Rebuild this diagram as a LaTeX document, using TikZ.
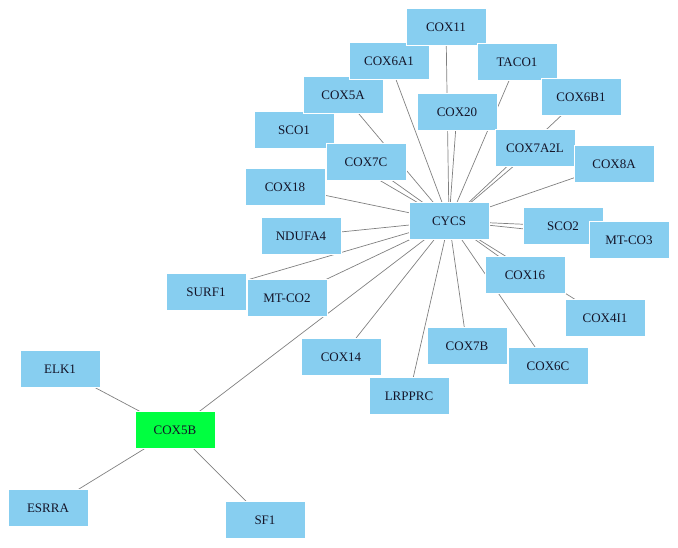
\documentclass[tikz,border=0pt]{standalone}
\usepackage{fontspec}
\setmainfont{Liberation Serif}
\usetikzlibrary{backgrounds}
\definecolor{nodeblue}{RGB}{135,206,240}
\definecolor{nodegreen}{RGB}{0,255,64}
\definecolor{edgegrey}{RGB}{128,128,128}
\definecolor{labeltext}{RGB}{20,20,40}
\begin{document}
\begin{tikzpicture}[x=1pt,y=-1pt,
  gene/.style={rectangle,fill=nodeblue,draw=white,line width=0.4pt,minimum width=80pt,minimum height=37pt,inner sep=0pt,text=labeltext,font=\fontsize{13}{15}\selectfont},
  seed/.style={gene,fill=nodegreen},
  link/.style={draw=edgegrey,line width=0.7pt}]
\useasboundingbox (0,0) rectangle (678,547);
% nodes
\node[gene] (COX18) at (285,187) {COX18};
\node[gene] (SCO1) at (294,130) {SCO1};
\node[gene] (COX5A) at (343,95) {COX5A};
\node[gene] (COX6A1) at (389,61) {COX6A1};
\node[gene] (COX11) at (446,27) {COX11};
\node[gene] (TACO1) at (517,62) {TACO1};
\node[gene] (COX6B1) at (581,97) {COX6B1};
\node[gene] (COX20) at (457,112) {COX20};
\node[gene] (COX7C) at (366,162) {COX7C};
\node[gene] (COX7A2L) at (535,148) {COX7A2L};
\node[gene] (COX8A) at (614,164) {COX8A};
\node[gene] (CYCS) at (449,221) {CYCS};
\node[gene] (SCO2) at (563,226) {SCO2};
\node[gene] (MTCO3) at (629,240) {MT-CO3};
\node[gene] (NDUFA4) at (301,236) {NDUFA4};
\node[gene] (COX16) at (525,275) {COX16};
\node[gene] (SURF1) at (206,292) {SURF1};
\node[gene] (MTCO2) at (287,298) {MT-CO2};
\node[gene] (COX4I1) at (605,318) {COX4I1};
\node[gene] (COX7B) at (467,346) {COX7B};
\node[gene] (COX14) at (341,357) {COX14};
\node[gene] (COX6C) at (548,366) {COX6C};
\node[gene] (LRPPRC) at (409,396) {LRPPRC};
\node[gene] (ELK1) at (60,369) {ELK1};
\node[seed] (COX5B) at (175,430) {COX5B};
\node[gene] (ESRRA) at (48,508) {ESRRA};
\node[gene] (SF1) at (265,520) {SF1};
% edges behind nodes
\begin{scope}[on background layer]
\foreach \n in {COX18,SCO1,COX5A,COX6A1,COX11,TACO1,COX6B1,COX20,COX7C,COX7A2L,COX8A,SCO2,MTCO3,NDUFA4,COX16,SURF1,MTCO2,COX4I1,COX7B,COX14,COX6C,LRPPRC,COX5B}
  \draw[link] (CYCS.center) -- (\n.center);
\foreach \n in {ELK1,ESRRA,SF1}
  \draw[link] (COX5B.center) -- (\n.center);
\end{scope}
\end{tikzpicture}
\end{document}
